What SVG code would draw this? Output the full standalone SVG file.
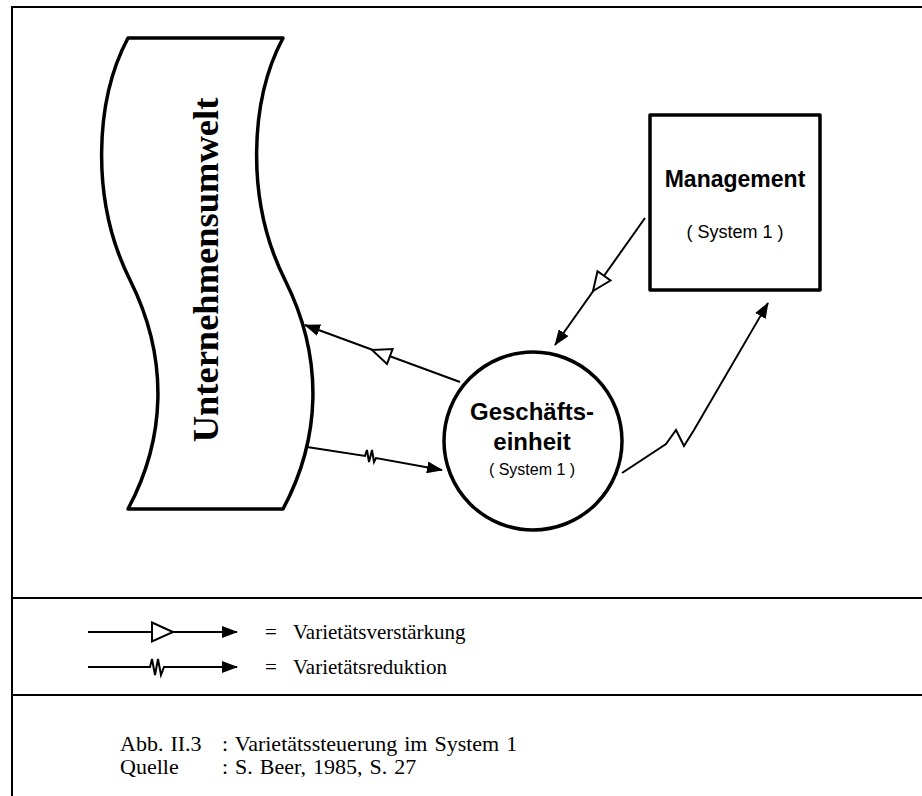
<svg xmlns="http://www.w3.org/2000/svg" width="922" height="796" viewBox="0 0 922 796">
  <style>
    .frame { fill: none; stroke: #000; stroke-width: 2; }
    .shape { fill: #fff; stroke: #000; stroke-width: 3.5; stroke-linejoin: round; }
    .conn { fill: none; stroke: #000; stroke-width: 2; stroke-linejoin: miter; }
    .amp { fill: #fff; stroke: #000; stroke-width: 2; stroke-linejoin: miter; }
    .sans { font-family: "Liberation Sans", Arial, sans-serif; fill: #000; }
    .serif { font-family: "Liberation Serif", "Times New Roman", serif; fill: #000; }
    .title { font-weight: bold; text-anchor: middle; }
    .note { font-size: 21px; }
    .cap { font-size: 22px; word-spacing: 1.5px; }
  </style>
  <defs>
    <marker id="head" viewBox="0 0 16 12" refX="15" refY="6" markerWidth="16" markerHeight="12" markerUnits="userSpaceOnUse" orient="auto">
      <path d="M0,0 L16,6 L0,12 Z" fill="#000"/>
    </marker>
  </defs>

  <rect width="922" height="796" fill="#fff"/>

  <!-- outer frame and section dividers -->
  <g id="frame" class="frame">
    <path d="M12,796 L12,7 L930,7"/>
    <line x1="12" y1="598" x2="930" y2="598"/>
    <line x1="12" y1="695" x2="930" y2="695"/>
  </g>

  <!-- environment: wavy band -->
  <g id="umwelt">
    <path class="shape" d="M128,38 L283,38 C250,100 245,200 285,280 S320,440 283,509 L128,509 C165,440 170,360 130,280 C90,200 95,100 128,38 Z"/>
    <text class="serif" transform="translate(218,270) rotate(-90)" font-size="36.5" font-weight="bold" text-anchor="middle">Unternehmensumwelt</text>
  </g>

  <!-- management box -->
  <g id="management">
    <rect class="shape" x="650" y="115" width="170" height="175"/>
    <text class="sans title" x="735" y="187" font-size="23">Management</text>
    <text class="sans" x="735" y="238" font-size="18" text-anchor="middle">( System 1 )</text>
  </g>

  <!-- business unit circle -->
  <g id="geschaeftseinheit">
    <circle class="shape" cx="533" cy="441" r="89"/>
    <text class="sans title" x="532" y="420" font-size="24">Geschäfts-</text>
    <text class="sans title" x="532" y="450" font-size="24">einheit</text>
    <text class="sans" x="532" y="475" font-size="16" text-anchor="middle">( System 1 )</text>
  </g>

  <!-- connectors -->
  <g id="connectors">
    <!-- unit -> environment (amplification) -->
    <line class="conn" x1="460" y1="382" x2="305" y2="325" marker-end="url(#head)"/>
    <polygon class="amp" points="372,350 392.6,349.1 387,364.1"/>
    <!-- environment -> unit (reduction) -->
    <polyline class="conn" points="307,447 365,456 367,450 369,462 372,450 374,462 376,458 442,470" marker-end="url(#head)"/>
    <!-- management -> unit (amplification) -->
    <line class="conn" x1="645" y1="218" x2="555" y2="345" marker-end="url(#head)"/>
    <polygon class="amp" points="593,291 610.5,280.5 597.5,271.3"/>
    <!-- unit -> management (reduction) -->
    <polyline class="conn" points="622,473 666,444 676,430 684,446 694,430 768,303" marker-end="url(#head)"/>
  </g>

  <!-- legend -->
  <g id="legend">
    <line class="conn" x1="88" y1="632" x2="237" y2="632" marker-end="url(#head)"/>
    <polygon class="amp" points="152,622.5 173,632 152,641.5"/>
    <polyline class="conn" points="88,667 150,667 152,659 155,675 158,659 161,675 164,667 237,667" marker-end="url(#head)"/>
    <text class="serif note" x="265" y="639">=</text>
    <text class="serif note" x="293" y="639">Varietätsverstärkung</text>
    <text class="serif note" x="265" y="674">=</text>
    <text class="serif note" x="293" y="674">Varietätsreduktion</text>
  </g>

  <!-- caption -->
  <g id="caption">
    <text class="serif cap" x="120" y="751">Abb. II.3</text>
    <text class="serif cap" x="222" y="751">: Varietätssteuerung im System 1</text>
    <text class="serif cap" x="120" y="774">Quelle</text>
    <text class="serif cap" x="222" y="774">: S. Beer, 1985, S. 27</text>
  </g>
</svg>
